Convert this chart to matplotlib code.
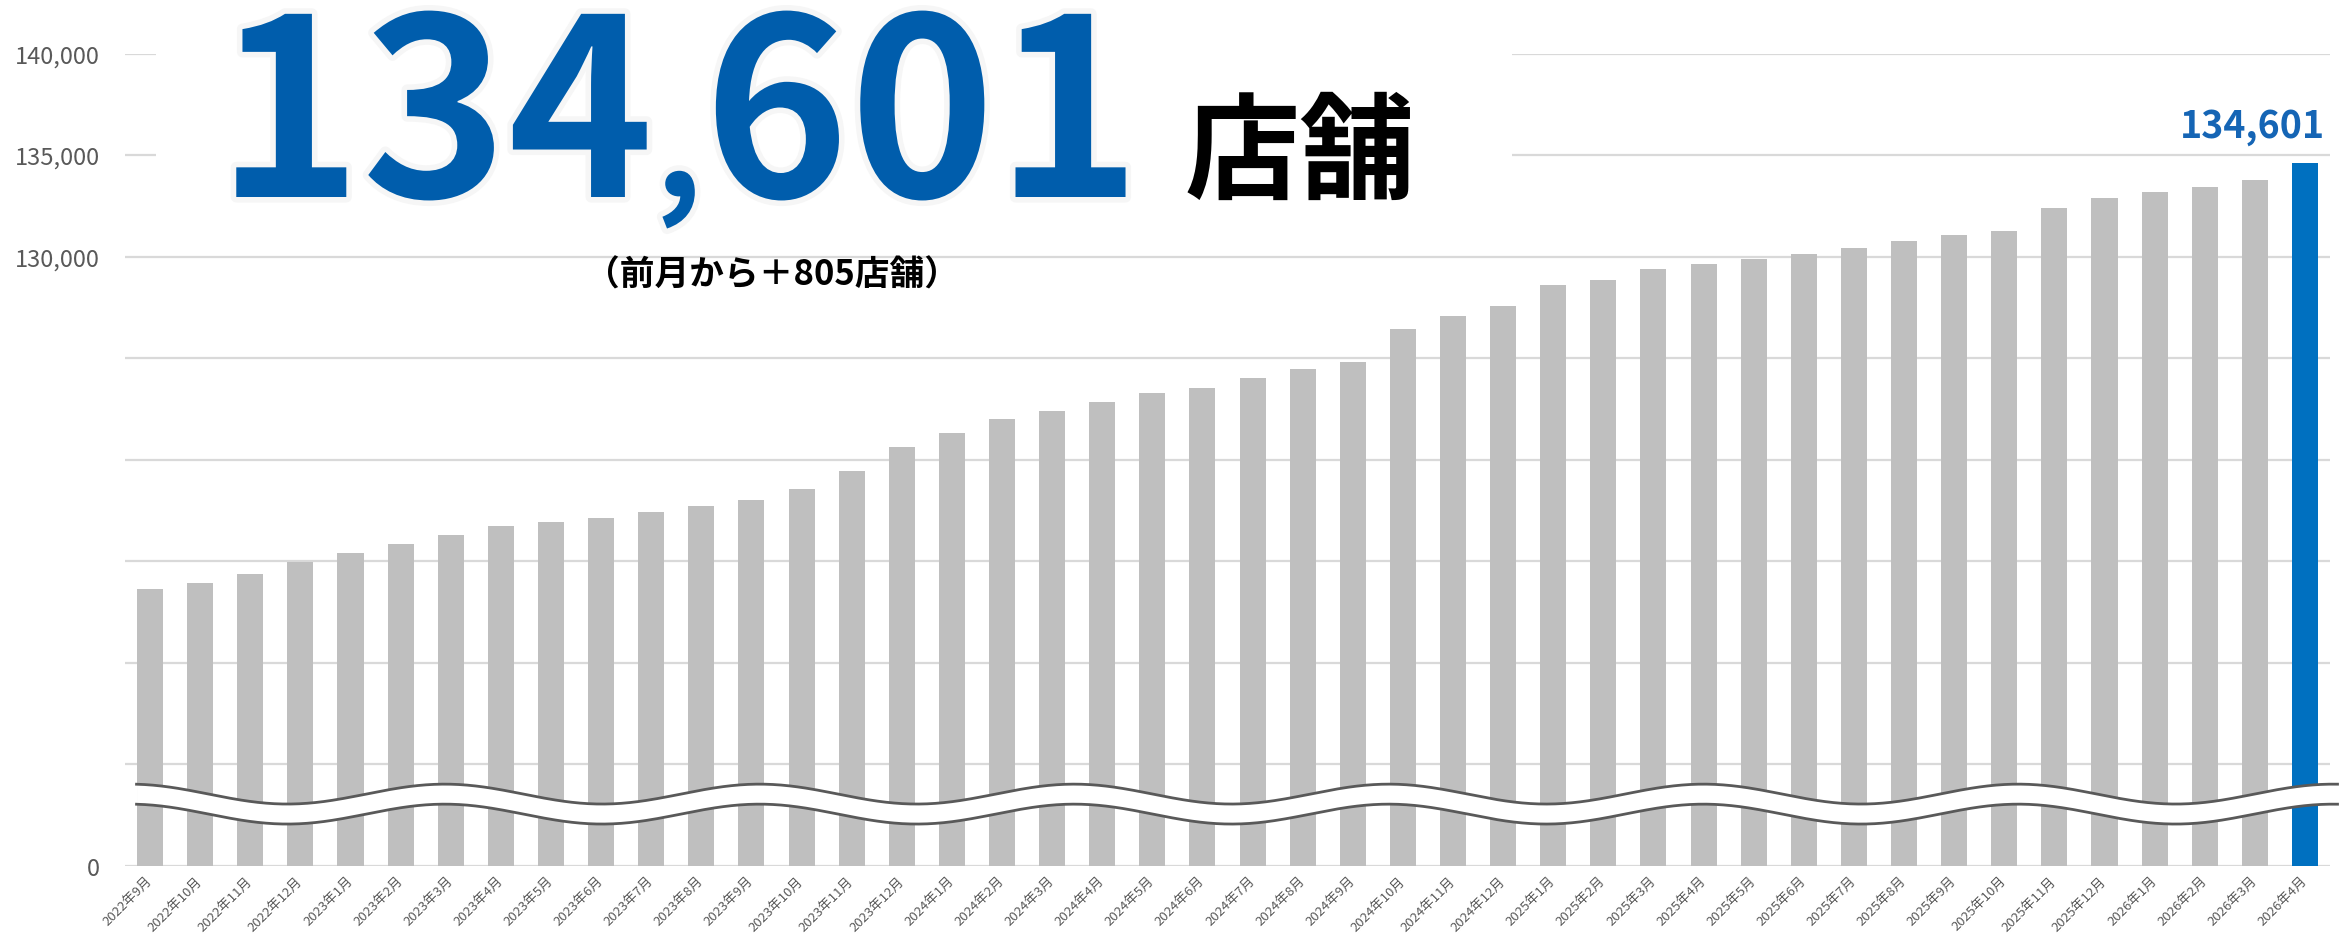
import numpy as np
import matplotlib
matplotlib.use("Agg")
import matplotlib.pyplot as plt
from matplotlib.patches import Rectangle
import matplotlib.patheffects as pe

plt.rcParams['font.family'] = ['Noto Sans CJK JP', 'DejaVu Sans']

# ---------------- data ----------------
months = [
    "2022年9月", "2022年10月", "2022年11月", "2022年12月",
    "2023年1月", "2023年2月", "2023年3月", "2023年4月", "2023年5月", "2023年6月",
    "2023年7月", "2023年8月", "2023年9月", "2023年10月", "2023年11月", "2023年12月",
    "2024年1月", "2024年2月", "2024年3月", "2024年4月", "2024年5月", "2024年6月",
    "2024年7月", "2024年8月", "2024年9月", "2024年10月", "2024年11月", "2024年12月",
    "2025年1月", "2025年2月", "2025年3月", "2025年4月", "2025年5月", "2025年6月",
    "2025年7月", "2025年8月", "2025年9月", "2025年10月", "2025年11月", "2025年12月",
    "2026年1月", "2026年2月", "2026年3月", "2026年4月",
]
stores = [
    113640, 113935, 114377, 114990,
    115410, 115852, 116295, 116737, 116934, 117150,
    117444, 117740, 118037, 118569, 119457, 120641,
    121332, 122023, 122418, 122862, 123300, 123540,
    124031, 124474, 124818, 126447, 127089, 127582,
    128618, 128865, 129408, 129655, 129901, 130148,
    130444, 130789, 131060, 131270, 132400, 132888,
    133183, 133428, 133796, 134601,
]
ytick_values = [100000, 105000, 110000, 115000, 120000, 125000, 130000, 135000, 140000]
ytick_labels = ["0", "", "", "", "", "", "130,000", "135,000", "140,000"]
headline_parts = ["134", ",", "601"]
headline_unit = "店舗"
subtitle = "（前月から＋805店舗）"
last_label = "134,601"

# axis-break wave (drawn in value units)
WAVE_TOP = 103540
WAVE_GAP = 985
WAVE_AMP = 490
WAVE_PEAK = 5.88
WAVE_PERIOD = 6.28

# ---------------- figure ----------------
W, H = 2351, 945
fig = plt.figure(figsize=(W / 100, H / 100), dpi=100)
ax = fig.add_axes([125 / W, (H - 867) / H, (2330 - 125) / W, (867 - 54.5) / H])

x = np.arange(len(stores))
colors = ['#BFBFBF'] * (len(stores) - 1) + ['#0070C0']
ax.bar(x, stores, width=0.52, color=colors, zorder=2)

ax.set_xlim(-0.5, len(stores) - 0.5)
ax.set_ylim(ytick_values[0], ytick_values[-1])
ax.set_yticks(ytick_values)
ax.set_yticklabels(ytick_labels, fontsize=17, color='#595959')
ax.set_xticks(x)
ax.set_xticklabels(months, rotation=45, ha='right', va='center',
                   rotation_mode='anchor', fontsize=9.5, color='#595959')
ax.tick_params(axis='y', length=0, pad=18)
ax.tick_params(axis='x', length=0, pad=9)
ax.grid(axis='y', color='#D9D9D9', linewidth=1.6, zorder=1)
ax.set_axisbelow(True)
for s in ax.spines.values():
    s.set_visible(False)

# axis-break wave
xw = np.linspace(-0.27, len(stores) - 0.35, 800)
top = WAVE_TOP + WAVE_AMP * np.cos(2 * np.pi * (xw - WAVE_PEAK) / WAVE_PERIOD)
bot = top - WAVE_GAP
ax.fill_between(xw, bot, top, color='white', zorder=3, clip_on=False, linewidth=0)
ax.plot(xw, top, color='#595959', lw=2.0, zorder=4, clip_on=False)
ax.plot(xw, bot, color='#595959', lw=2.0, zorder=4, clip_on=False)

# label over last bar
ax.annotate(last_label, xy=(x[-1], stores[-1]), xytext=(-38, 27),
            textcoords='offset points', ha='center', va='center',
            fontsize=27, fontweight='bold', color='#1565B5', zorder=6)

# white panel behind headline
ax.add_patch(Rectangle((156 / W, (H - 235) / H), (1512 - 156) / W, 235 / H,
                       transform=fig.transFigure, facecolor='white',
                       edgecolor='none', zorder=5, clip_on=False))

# headline: pieces placed side by side, each starting where the previous ends
halo = [pe.withStroke(linewidth=8, foreground='#F6F6F6')]
renderer = fig.canvas.get_renderer()
head_size = [178, 106, 178]
cursor = 216.0  # pixels from the left
base_y = (H - 198) / H
for part, hs in zip(headline_parts, head_size):
    t = fig.text(cursor / W, base_y, part, ha='left', va='baseline',
                 fontsize=hs, fontweight='bold', color='#005DAC', path_effects=halo)
    ext = t.get_window_extent(renderer=renderer)
    cursor = ext.x1 + 1

fig.text(1185 / W, (H - 190) / H, headline_unit, ha='left', va='baseline',
         fontsize=83, fontweight='bold', color='black')
fig.text(772 / W, (H - 275) / H, subtitle, ha='center', va='center',
         fontsize=25, fontweight='bold', color='black')

fig.savefig('out.png', dpi=100, facecolor='white')
